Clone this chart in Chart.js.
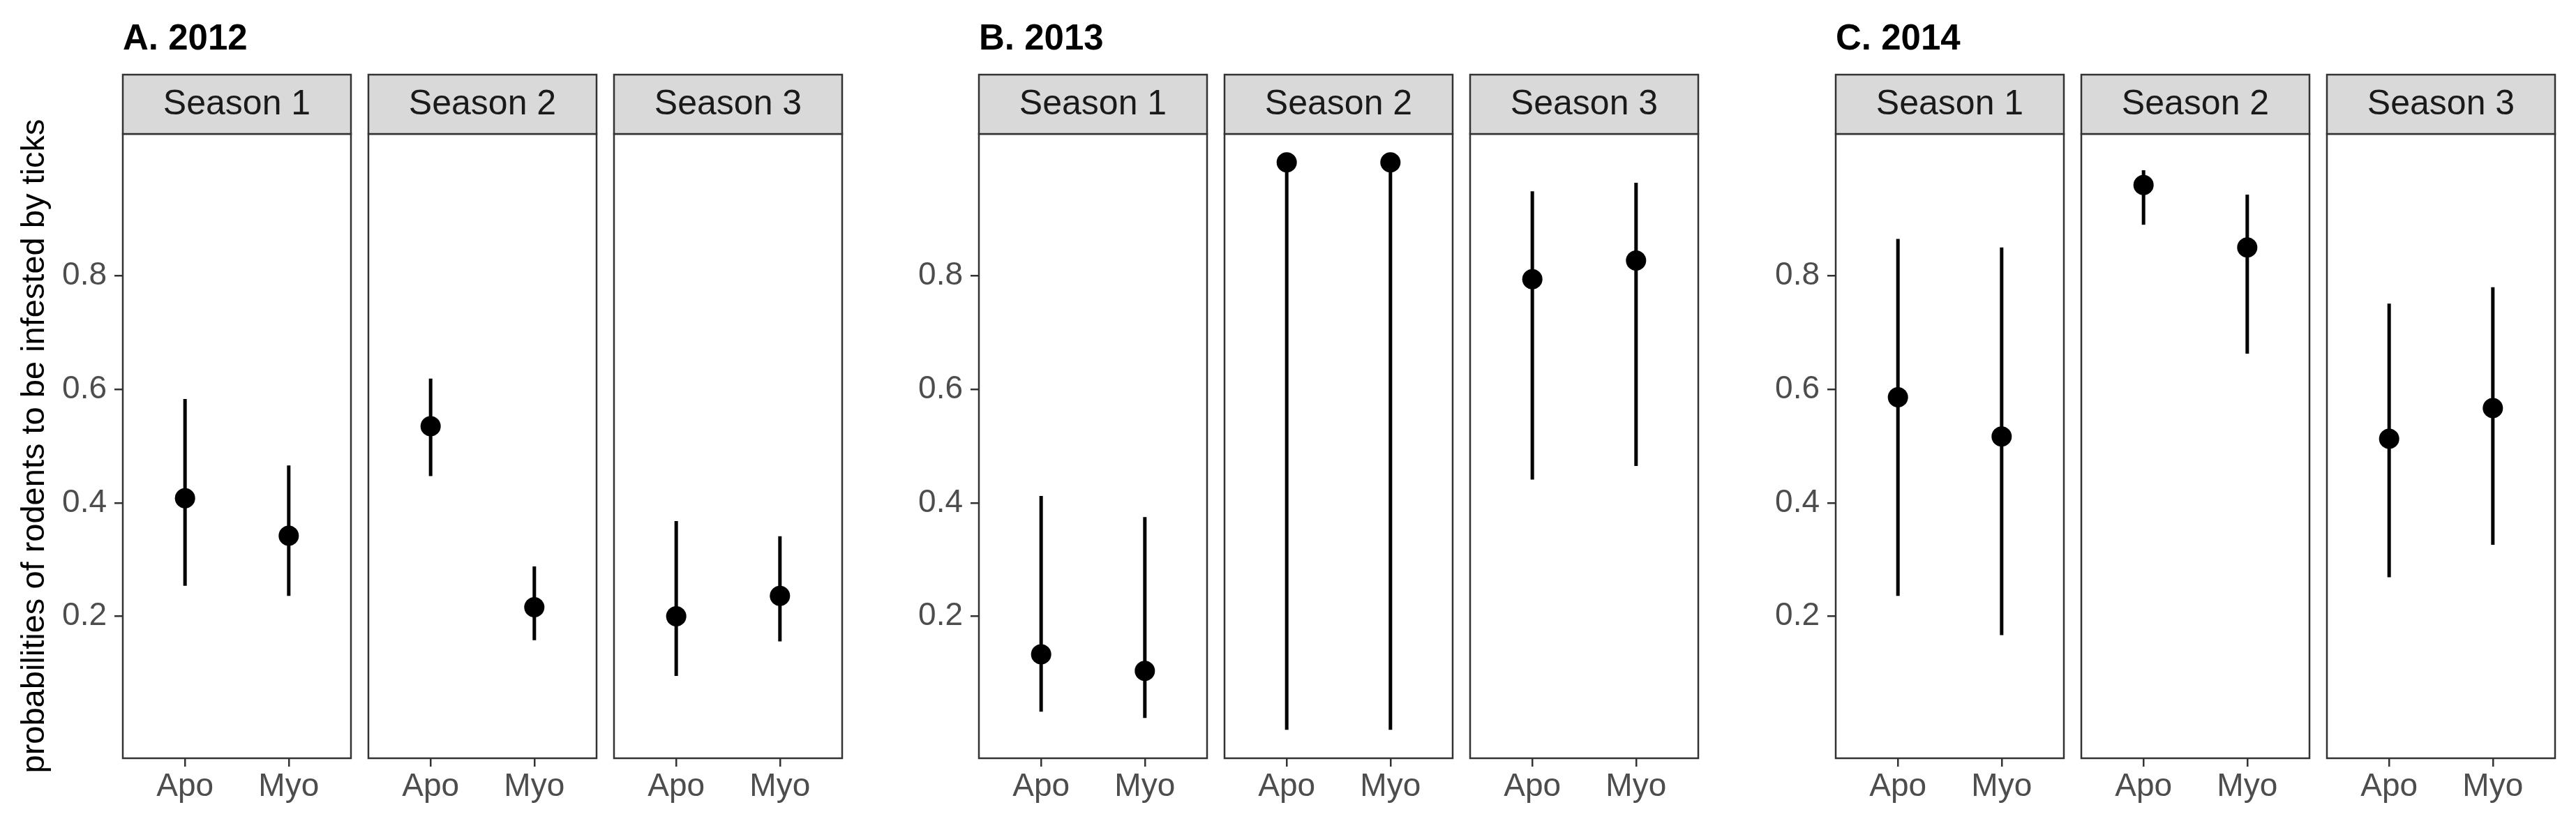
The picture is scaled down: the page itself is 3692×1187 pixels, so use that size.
<!DOCTYPE html>
<html>
<head>
<meta charset="utf-8">
<script src="https://cdn.jsdelivr.net/npm/chart.js@4.4.1/dist/chart.umd.min.js"></script>
<style>
  html, body { margin: 0; padding: 0; background: #fff; }
  #wrap { position: relative; width: 3692px; height: 1187px; overflow: hidden; background: #fff; }
  .panel { position: absolute; top: 0; }
</style>
</head>
<body>
<div id="wrap"></div>
<script>
// categories and facets
var categories = ['Apo', 'Myo'];
var seasons = ['Season 1', 'Season 2', 'Season 3'];
var yearTitles = ['A. 2012', 'B. 2013', 'C. 2014'];
var yTicks = [0.2, 0.4, 0.6, 0.8];

// values per year: S1 Apo, S1 Myo, S2 Apo, S2 Myo, S3 Apo, S3 Myo
var est2012 = [0.408, 0.342, 0.535, 0.216, 0.200, 0.236];
var low2012 = [0.254, 0.236, 0.447, 0.158, 0.095, 0.156];
var up2012  = [0.583, 0.466, 0.619, 0.288, 0.368, 0.341];

var est2013 = [0.133, 0.104, 1.000, 1.000, 0.794, 0.827];
var low2013 = [0.032, 0.021, 0.000, 0.000, 0.441, 0.465];
var up2013  = [0.412, 0.375, 1.000, 1.000, 0.949, 0.964];

var est2014 = [0.586, 0.517, 0.960, 0.850, 0.513, 0.567];
var low2014 = [0.236, 0.167, 0.890, 0.663, 0.269, 0.326];
var up2014  = [0.865, 0.850, 0.986, 0.943, 0.751, 0.780];

var estimates = [est2012, est2013, est2014];
var lowers = [low2012, low2013, low2014];
var uppers = [up2012, up2013, up2014];

// layout
var FONT = '"Liberation Sans", Arial, Helvetica, sans-serif';
var groupLeft = [176, 1403, 2631];
var panelW = 327, panelStep = 352;
var stripTop = 107, panelTop = 192, panelBottom = 1087, H = 1187;

// strip, border and group title
var facetPlugin = {
  id: 'facet',
  afterDraw: function (chart, args, opts) {
    var ctx = chart.ctx, a = chart.chartArea;
    var w = a.right - a.left;
    ctx.save();
    ctx.lineWidth = 2.5;
    ctx.strokeStyle = '#333333';
    ctx.strokeRect(a.left, a.top, w, a.bottom - a.top);
    ctx.fillStyle = '#D9D9D9';
    ctx.fillRect(a.left, stripTop, w, a.top - stripTop);
    ctx.strokeRect(a.left, stripTop, w, a.top - stripTop);
    ctx.fillStyle = '#1A1A1A';
    ctx.font = '50px ' + FONT;
    ctx.textAlign = 'center';
    ctx.textBaseline = 'middle';
    ctx.fillText(opts.strip, (a.left + a.right) / 2, 150);
    if (opts.title) {
      ctx.fillStyle = '#000';
      ctx.font = 'bold 51px ' + FONT;
      ctx.textAlign = 'left';
      ctx.textBaseline = 'alphabetic';
      ctx.fillText(opts.title, a.left, 71);
    }
    ctx.restore();
  }
};

var wrap = document.getElementById('wrap');

for (var g = 0; g < 3; g++) {
  for (var s = 0; s < 3; s++) {
    var left = groupLeft[g] + s * panelStep;
    var L = s === 0 ? (g === 0 ? 176 : 110) : 4;
    var R = 4;
    var cw = L + panelW + R;

    var div = document.createElement('div');
    div.className = 'panel';
    div.style.left = (left - L) + 'px';
    div.style.width = cw + 'px';
    div.style.height = H + 'px';
    var canvas = document.createElement('canvas');
    canvas.width = cw;
    canvas.height = H;
    canvas.style.width = cw + 'px';
    canvas.style.height = H + 'px';
    div.appendChild(canvas);
    wrap.appendChild(div);

    var est = estimates[g], low = lowers[g], up = uppers[g];
    var datasets = [{
      type: 'scatter',
      data: categories.map(function (c, i) { return { x: i + 1, y: est[s * 2 + i] }; }),
      pointRadius: 14.5,
      pointBackgroundColor: '#000',
      pointBorderWidth: 0
    }];
    categories.forEach(function (c, i) {
      datasets.push({
        type: 'line',
        data: [{ x: i + 1, y: low[s * 2 + i] }, { x: i + 1, y: up[s * 2 + i] }],
        borderColor: '#000',
        borderWidth: 5,
        borderCapStyle: 'butt',
        pointRadius: 0,
        fill: false
      });
    });

    var showY = s === 0;
    var yScale = {
      display: showY,
      min: -0.05,
      max: 1.05,
      afterBuildTicks: function (ax) { ax.ticks = yTicks.map(function (v) { return { value: v }; }); },
      ticks: {
        callback: function (v) { return v.toFixed(1); },
        font: { family: FONT, size: 46 },
        color: '#4D4D4D',
        padding: 11
      },
      grid: { display: true, drawOnChartArea: false, drawTicks: true, tickLength: 12, color: '#333333', lineWidth: 2.5 },
      border: { display: false }
    };
    if (showY) {
      (function (w) { yScale.afterFit = function (ax) { ax.width = w; }; })(L);
    }
    if (g === 0 && s === 0) {
      yScale.title = {
        display: true,
        text: 'probabilities of rodents to be infested by ticks',
        font: { family: FONT, size: 47 },
        color: '#000',
        padding: { top: 22, bottom: 0 }
      };
    }

    new Chart(canvas, {
      type: 'scatter',
      data: { datasets: datasets },
      options: {
        responsive: false,
        maintainAspectRatio: false,
        animation: false,
        events: [],
        layout: { autoPadding: false, padding: { top: panelTop, left: showY ? 0 : L, right: R, bottom: 0 } },
        plugins: {
          legend: { display: false },
          tooltip: { enabled: false },
          facet: { strip: seasons[s], title: s === 0 ? yearTitles[g] : null }
        },
        scales: {
          x: {
            type: 'linear',
            min: 0.4,
            max: 2.6,
            afterBuildTicks: function (ax) { ax.ticks = categories.map(function (c, i) { return { value: i + 1 }; }); },
            afterFit: function (ax) { ax.height = H - panelBottom; },
            ticks: {
              callback: function (v) { return categories[v - 1]; },
              font: { family: FONT, size: 46 },
              color: '#4D4D4D',
              padding: 2,
              maxRotation: 0,
              autoSkip: false
            },
            grid: { display: true, drawOnChartArea: false, drawTicks: true, tickLength: 12, color: '#333333', lineWidth: 2.5 },
            border: { display: false }
          },
          y: yScale
        }
      },
      plugins: [facetPlugin]
    });
  }
}
</script>
</body>
</html>
